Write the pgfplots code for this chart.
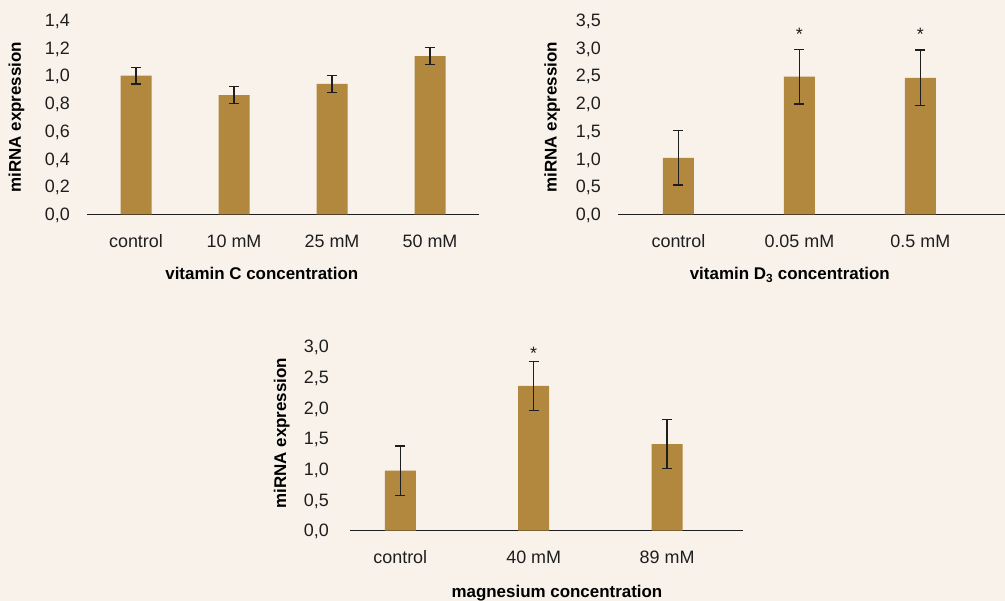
\documentclass[border=0pt]{standalone}
\usepackage{fontspec}
\setmainfont{Liberation Sans}
\usepackage{pgfplots}
\pgfplotsset{compat=1.18}
\definecolor{bg}{HTML}{F8F2EB}
\definecolor{barc}{HTML}{B2883E}
\definecolor{axc}{HTML}{1E1E1E}
\newcommand{\lblfont}{\bfseries\fontsize{17}{20}\selectfont}

\pgfplotstableread{
x y e
0 1.00 0.06
1 0.86 0.06
2 0.94 0.06
3 1.14 0.06
}\vitc
\pgfplotstableread{
x y e
0 1.02 0.49
1 2.48 0.49
2 2.46 0.50
}\vitd
\pgfplotstableread{
x y e
0 0.98 0.40
1 2.36 0.40
2 1.41 0.40
}\magn
\pgfplotstableread{
x y
1 3.24
2 3.24
}\vitdstar
\pgfplotstableread{
x y
1 2.90
}\magnstar

\pgfplotsset{
  mybar/.style={
    scale only axis, anchor=south west, clip=false,
    ymin=0,
    axis x line*=bottom, axis y line*=left,
    x axis line style={-, line width=1.1bp, color=axc},
    y axis line style={draw=none},
    major tick length=0pt,
    xtick=data,
    tick label style={font=\fontsize{18}{21}\selectfont, text=axc},
    /pgf/number format/.cd, fixed, fixed zerofill, precision=1, use comma, assume math mode=true, /pgfplots/.cd,
    yticklabel style={anchor=east, inner sep=0pt, xshift=-17bp, text depth=0pt},
    xticklabel style={anchor=base, inner sep=0pt, yshift=-33bp},
  },
  barplot/.style={ybar, bar width=31bp, fill=barc, draw=none,
    error bars/.cd, y dir=both, y explicit,
    error bar style={line width=1.2bp, color=axc},
    error mark options={rotate=90, mark size=5bp, line width=1.2bp, color=axc}},
  starplot/.style={draw=none, mark=none, nodes near coords={*},
    every node near coord/.style={anchor=center, font=\fontsize{18}{21}\selectfont, text=axc}},
}

\begin{document}
\begin{tikzpicture}
\fill[bg] (0,0) rectangle (1005bp,601bp);
\useasboundingbox (0,0) rectangle (1005bp,601bp);

% vitamin C
\begin{axis}[mybar, at={(87bp,386.5bp)}, width=392bp, height=194.5bp,
  xmin=-0.5, xmax=3.5, ymax=1.4,
  ytick={0,0.2,0.4,0.6,0.8,1.0,1.2,1.4},
  xticklabels={control,10 mM,25 mM,50 mM},
  xlabel={vitamin C concentration}, ylabel={miRNA expression},
  every axis x label/.style={at={(axis description cs:0.446,0)}, anchor=base, yshift=-65bp, font=\lblfont},
  every axis y label/.style={at={(axis description cs:-0.18,0.5)}, rotate=90, anchor=center, font=\lblfont},
]
\addplot[barplot] table[x=x, y=y, y error=e] {\vitc};
\end{axis}

% vitamin D3
\begin{axis}[mybar, at={(618bp,386.5bp)}, width=387bp, height=194.5bp,
  xmin=-0.5, xmax=2.7, ymax=3.5,
  ytick={0,0.5,1.0,1.5,2.0,2.5,3.0,3.5},
  xticklabels={control,0.05 mM,0.5 mM},
  xlabel={vitamin D\textsubscript{3} concentration}, ylabel={miRNA expression},
  every axis x label/.style={at={(axis description cs:0.444,0)}, anchor=base, yshift=-65bp, font=\lblfont},
  every axis y label/.style={at={(axis description cs:-0.17,0.5)}, rotate=90, anchor=center, font=\lblfont},
]
\addplot[barplot] table[x=x, y=y, y error=e] {\vitd};
\addplot[starplot] table[x=x, y=y] {\vitdstar};
\end{axis}

% magnesium
\begin{axis}[mybar, at={(350bp,70.3bp)}, width=392.7bp, height=184bp,
  xmin=-0.377, xmax=2.567, ymax=3.0,
  ytick={0,0.5,1.0,1.5,2.0,2.5,3.0},
  xticklabels={control,40 mM,89 mM},
  yticklabel style={xshift=-4bp},
  xlabel={magnesium concentration}, ylabel={miRNA expression},
  every axis x label/.style={at={(axis description cs:0.527,0)}, anchor=base, yshift=-67bp, font=\lblfont},
  every axis y label/.style={at={(axis description cs:-0.174,0.53)}, rotate=90, anchor=center, font=\lblfont},
]
\addplot[barplot] table[x=x, y=y, y error=e] {\magn};
\addplot[starplot] table[x=x, y=y] {\magnstar};
\end{axis}
\end{tikzpicture}
\end{document}
